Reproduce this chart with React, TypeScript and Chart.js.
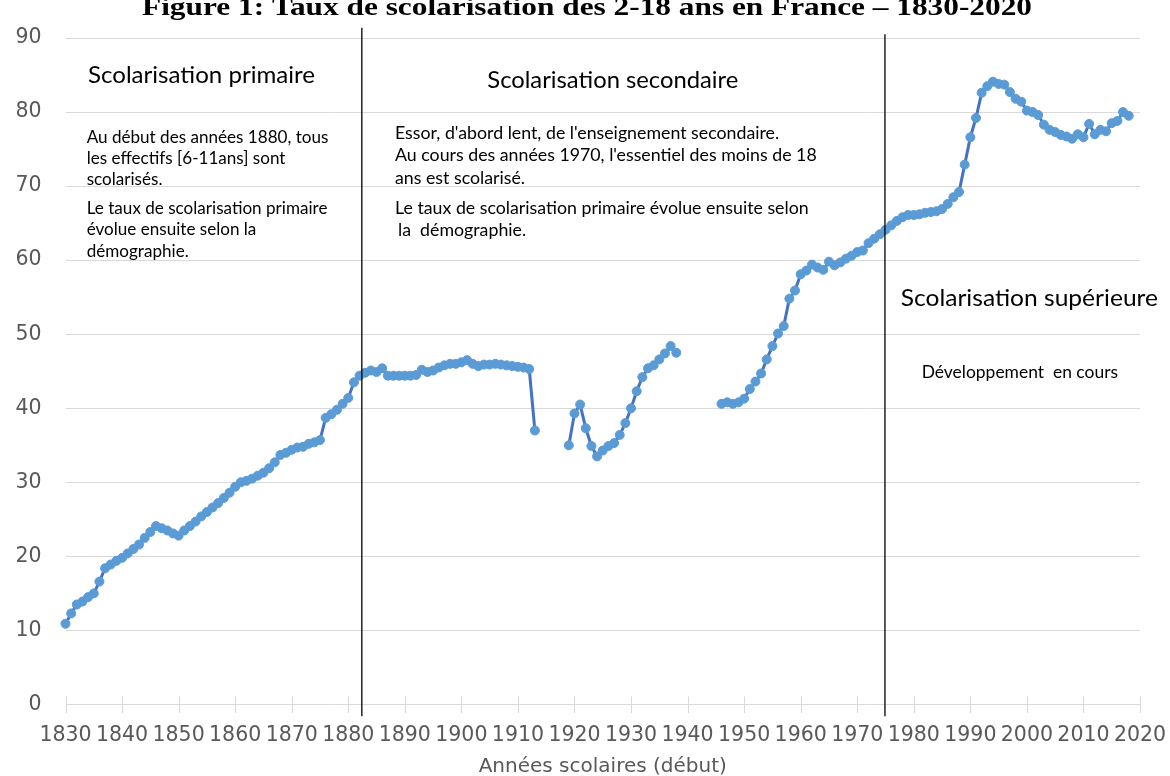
import React, { useEffect, useRef } from "react";
import { Chart, registerables } from "chart.js";

Chart.register(...registerables);

// ---------------- DATA ----------------
// Taux de scolarisation des 2-18 ans (%), par année scolaire (début)
const START_1830 = 1830;
const VALUES_1830_1913 = [
  10.9, 12.3, 13.5, 13.9, 14.5, 15.0, 16.6, 18.4, 18.9, 19.4,
  19.8, 20.4, 21.0, 21.6, 22.5, 23.3, 24.1, 23.8, 23.5, 23.1,
  22.8, 23.5, 24.1, 24.7, 25.4, 26.0, 26.6, 27.2, 27.9, 28.6,
  29.4, 30.0, 30.2, 30.5, 30.9, 31.3, 31.9, 32.7, 33.7, 34.0,
  34.4, 34.7, 34.8, 35.2, 35.4, 35.7, 38.7, 39.2, 39.8, 40.6,
  41.4, 43.5, 44.4, 44.8, 45.1, 44.9, 45.4, 44.4, 44.4, 44.4,
  44.4, 44.4, 44.5, 45.2, 44.9, 45.1, 45.5, 45.8, 46.0, 46.0,
  46.2, 46.5, 46.0, 45.7, 45.9, 45.9, 46.0, 45.9, 45.8, 45.7,
  45.6, 45.5, 45.3, 37.0,
];
const START_1919 = 1919;
const VALUES_1919_1938 = [
  35.0,
  39.3, 40.5, 37.3, 34.9, 33.5, 34.3, 34.9, 35.3, 36.4, 38.0,
  40.0, 42.3, 44.2, 45.4, 45.8, 46.6, 47.4, 48.4, 47.5,
];
const START_1946 = 1946;
const VALUES_1946_2018 = [
  40.6, 40.8, 40.6, 40.8,
  41.3, 42.6, 43.6, 44.7, 46.6, 48.4, 50.1, 51.1, 54.8, 55.9,
  58.1, 58.6, 59.4, 59.0, 58.7, 59.8, 59.3, 59.7, 60.2, 60.6,
  61.1, 61.3, 62.3, 62.9, 63.5, 64.1, 64.7, 65.3, 65.8, 66.1,
  66.1, 66.2, 66.4, 66.5, 66.6, 66.9, 67.6, 68.5, 69.2, 72.9,
  76.6, 79.2, 82.6, 83.5, 84.1, 83.8, 83.7, 82.7, 81.8, 81.4,
  80.2, 80.0, 79.6, 78.3, 77.6, 77.3, 76.9, 76.7, 76.4, 77.0,
  76.6, 78.4, 77.0, 77.6, 77.4, 78.5, 78.8, 80.0, 79.5,
];

const X_MIN = 1830;
const X_MAX = 2020;
const X_STEP = 10;
const Y_MIN = 0;
const Y_MAX = 90;
const Y_STEP = 10;

const TITLE = "Figure 1: Taux de scolarisation des 2-18 ans en France – 1830-2020";
const X_AXIS_TITLE = "Années scolaires (début)";

// vertical separators (year, top value, bottom value)
const DIVIDER_YEARS = [1882.4, 1974.9];
const DIVIDER_TOPS = [91.4, 90.5];
const DIVIDER_BOTTOM = -1.6;

// annotation text blocks
const BLOCK_PRIMAIRE_TITLE = ["Scolarisation primaire"];
const BLOCK_PRIMAIRE_TEXT = [
  "Au début des années 1880, tous",
  "les effectifs [6-11ans] sont",
  "scolarisés.",
  "Le taux de scolarisation primaire",
  "évolue ensuite selon la",
  "démographie.",
];
const BLOCK_SECONDAIRE_TITLE = ["Scolarisation secondaire"];
const BLOCK_SECONDAIRE_TEXT = [
  "Essor, d'abord lent, de l'enseignement secondaire.",
  "Au cours des années 1970, l'essentiel des moins de 18",
  "ans est scolarisé.",
  "Le taux de scolarisation primaire évolue ensuite selon",
  "la  démographie.",
];
const BLOCK_SUPERIEUR_TITLE = ["Scolarisation supérieure"];
const BLOCK_SUPERIEUR_TEXT = ["Développement  en cours"];

// ---------------- LAYOUT / STYLE ----------------
const W = 1170;
const H = 776;
const FONT_TEXT = "Lato, 'Noto Sans', sans-serif";
const FONT_AXIS = "'DejaVu Sans', sans-serif";

type Block = {
  lines: string[];
  x: number[];
  baselines: number[];
  size: number;
  refIndex: number;
  refWidth: number;
};

const BLOCKS: Block[] = [
  { lines: BLOCK_PRIMAIRE_TITLE, x: [88], baselines: [83.3], size: 23, refIndex: 0, refWidth: 227 },
  {
    lines: BLOCK_PRIMAIRE_TEXT,
    x: [86.7, 86.7, 86.7, 86.7, 86.7, 86.7],
    baselines: [143, 164, 185, 214, 235, 257],
    size: 16.5,
    refIndex: 0,
    refWidth: 241.7,
  },
  { lines: BLOCK_SECONDAIRE_TITLE, x: [487.3], baselines: [88.3], size: 23, refIndex: 0, refWidth: 251 },
  {
    lines: BLOCK_SECONDAIRE_TEXT,
    x: [395, 395, 395, 395, 398],
    baselines: [139, 160.5, 183.5, 213.5, 235.5],
    size: 16.5,
    refIndex: 1,
    refWidth: 421.7,
  },
  { lines: BLOCK_SUPERIEUR_TITLE, x: [900.7], baselines: [306], size: 23, refIndex: 0, refWidth: 257.3 },
  { lines: BLOCK_SUPERIEUR_TEXT, x: [921.7], baselines: [378], size: 16.5, refIndex: 0, refWidth: 196.3 },
];

function buildPoints() {
  const segs: [number, number[]][] = [
    [START_1830, VALUES_1830_1913],
    [START_1919, VALUES_1919_1938],
    [START_1946, VALUES_1946_2018],
  ];
  const pts: { x: number; y: number | null }[] = [];
  segs.forEach(([start, vals], k) => {
    if (k > 0) pts.push({ x: start - 1, y: null });
    vals.forEach((v, i) => pts.push({ x: start + i, y: v }));
  });
  return pts;
}

const overlayPlugin = {
  id: "overlay",
  beforeDatasetsDraw(chart: any) {
    const { ctx } = chart;
    const xs = chart.scales.x;
    const ys = chart.scales.y;
    const y0 = ys.getPixelForValue(0);
    ctx.save();
    ctx.strokeStyle = "#d9d9d9";
    ctx.lineWidth = 1;
    xs.ticks.forEach((t: any) => {
      const px = Math.round(xs.getPixelForValue(t.value)) + 0.5;
      ctx.beginPath();
      ctx.moveTo(px, y0 - 8);
      ctx.lineTo(px, y0 + 8.5);
      ctx.stroke();
    });
    ctx.restore();
  },
  afterDatasetsDraw(chart: any) {
    const { ctx } = chart;
    const xs = chart.scales.x;
    const ys = chart.scales.y;
    ctx.save();
    ctx.strokeStyle = "#000000";
    ctx.lineWidth = 1.3;
    DIVIDER_YEARS.forEach((yr, i) => {
      const px = xs.getPixelForValue(yr);
      ctx.beginPath();
      ctx.moveTo(px, ys.getPixelForValue(DIVIDER_TOPS[i]));
      ctx.lineTo(px, ys.getPixelForValue(DIVIDER_BOTTOM));
      ctx.stroke();
    });
    ctx.restore();

    // annotation text
    ctx.save();
    ctx.fillStyle = "#000000";
    ctx.textBaseline = "alphabetic";
    ctx.textAlign = "left";
    BLOCKS.forEach((b) => {
      ctx.font = `${b.size}px ${FONT_TEXT}`;
      const m = ctx.measureText(b.lines[b.refIndex]).width;
      const sx = m > 0 ? b.refWidth / m : 1;
      b.lines.forEach((line, i) => {
        ctx.save();
        ctx.translate(b.x[i], b.baselines[i]);
        ctx.scale(sx, 1);
        ctx.fillText(line, 0, 0);
        ctx.restore();
      });
    });
    ctx.restore();

    // title (top is cut in the reference)
    ctx.save();
    ctx.fillStyle = "#000000";
    ctx.font = `bold 26px 'Liberation Serif', 'DejaVu Serif', serif`;
    ctx.textAlign = "center";
    ctx.textBaseline = "alphabetic";
    const tw = ctx.measureText(TITLE).width;
    const tsx = tw > 0 ? 890 / tw : 1;
    ctx.translate(587, 15);
    ctx.scale(tsx, 1);
    ctx.fillText(TITLE, 0, 0);
    ctx.restore();
  },
};

export default function App() {
  const canvasRef = useRef<HTMLCanvasElement | null>(null);

  useEffect(() => {
    const canvas = canvasRef.current;
    if (!canvas) return;
    const chart = new Chart(canvas, {
      type: "line",
      data: {
        datasets: [
          {
            label: "Taux de scolarisation",
            data: buildPoints() as any,
            borderColor: "#4472C4",
            borderWidth: 3,
            pointRadius: 4.5,
            pointBackgroundColor: "#5B9BD5",
            pointBorderColor: "#5B9BD5",
            pointBorderWidth: 1,
            tension: 0,
            spanGaps: false,
            fill: false,
            clip: false,
          } as any,
        ],
      },
      options: {
        responsive: false,
        animation: false,
        devicePixelRatio: 1,
        layout: { padding: { left: 0, right: 30, top: 38, bottom: 0 } },
        plugins: {
          legend: { display: false },
          tooltip: { enabled: false },
          title: { display: false },
        },
        scales: {
          x: {
            type: "linear",
            min: X_MIN,
            max: X_MAX,
            afterFit: (s: any) => {
              s.height = 71.5;
              s.paddingLeft = 0;
              s.paddingRight = 0;
            },
            ticks: {
              stepSize: X_STEP,
              autoSkip: false,
              maxRotation: 0,
              minRotation: 0,
              padding: 19,
              color: "#595959",
              font: { family: FONT_AXIS, size: 20.5 },
              callback: (v: any) => String(v),
            },
            grid: { display: false, drawTicks: false },
            border: { display: false },
            title: {
              display: true,
              text: X_AXIS_TITLE,
              color: "#595959",
              font: { family: FONT_AXIS, size: 20, lineHeight: 0.9 },
              padding: { top: 0, bottom: 0 },
            },
          },
          y: {
            min: Y_MIN,
            max: Y_MAX,
            afterFit: (s: any) => {
              s.width = 65.5;
            },
            ticks: {
              stepSize: Y_STEP,
              padding: 24,
              color: "#595959",
              font: { family: FONT_AXIS, size: 20.5 },
            },
            grid: { color: "#d9d9d9", lineWidth: 1, drawTicks: false },
            border: { display: false },
          },
        },
      },
      plugins: [overlayPlugin],
    });
    return () => chart.destroy();
  }, []);

  return (
    <div style={{ position: "absolute", left: 0, top: 0, width: W, height: H, background: "#ffffff" }}>
      <canvas ref={canvasRef} width={W} height={H} style={{ display: "block" }} />
    </div>
  );
}
